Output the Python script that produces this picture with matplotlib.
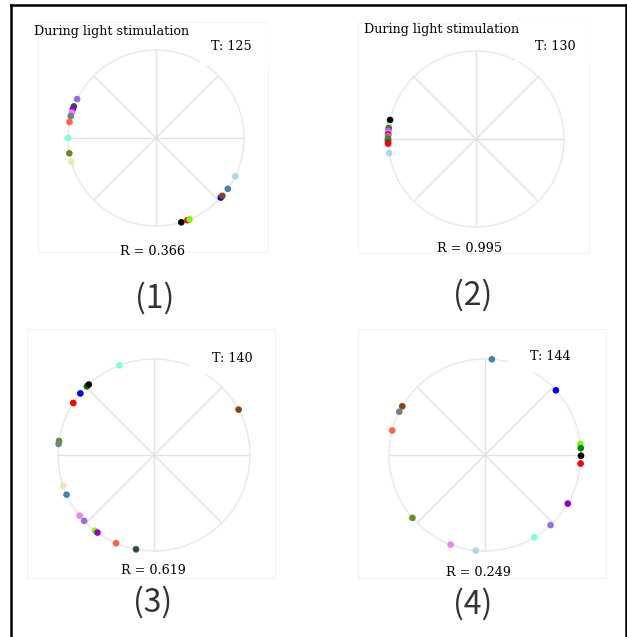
import numpy as np
import matplotlib
matplotlib.use("Agg")
import matplotlib.pyplot as plt
from matplotlib.patches import Rectangle
from matplotlib.lines import Line2D

W, H = 627, 637

# phase angles (degrees) and colours of each cell, per panel
p1_deg = [153.7, 159.0, 160.9, 163.2, 165.6, 169.5, 180.0, 190.0, 195.6,
          334.2, 324.7, 317.4, 318.9, 291.0, 292.4, 286.7]
p1_col = ["mediumpurple", "darkslategray", "darkviolet", "violet", "slategray",
          "tomato", "aquamarine", "olivedrab", "palegoldenrod",
          "lightblue", "steelblue", "blue", "saddlebrown", "red", "lawngreen", "black"]

p2_deg = [167.5, 171.5, 173.0, 174.5, 176.0, 177.0, 178.0, 179.5, 180.5,
          181.0, 182.0, 183.0, 189.3]
p2_col = ["black", "aquamarine", "saddlebrown", "mediumpurple", "violet",
          "darkviolet", "tomato", "olivedrab", "darkslategray", "steelblue",
          "green", "red", "lightblue"]

p3_deg = [111.1, 134.4, 132.8, 140.1, 147.2, 171.6, 173.4, 198.8, 204.4,
          219.2, 223.3, 232.1, 233.9, 246.7, 259.2, 28.2]
p3_col = ["aquamarine", "green", "black", "blue", "red", "olivedrab", "slategray",
          "palegoldenrod", "steelblue", "violet", "mediumpurple", "lawngreen",
          "darkviolet", "tomato", "darkslategray", "saddlebrown"]

p4_deg = [85.9, 42.4, 149.5, 153.2, 165.2, 6.6, 4.1, 359.6, 354.9,
          329.6, 313.1, 301.0, 264.5, 249.0, 220.9]
p4_col = ["steelblue", "blue", "saddlebrown", "slategray", "tomato", "lawngreen",
          "green", "black", "red", "darkviolet", "mediumpurple", "aquamarine",
          "lightblue", "violet", "olivedrab"]

t_labels = ["T: 125", "T: 130", "T: 140", "T: 144"]
r_labels = ["R = 0.366", "R = 0.995", "R = 0.619", "R = 0.249"]
tags = ["(1)", "(2)", "(3)", "(4)"]
has_title = [True, True, False, False]

# layout in pixels
centers = [(156, 138), (476, 139), (154, 455), (485, 455)]
radii = [88, 88, 96, 96]
t_pos = [(231, 46), (555, 46), (232, 359), (550, 356)]
r_pos = [(152, 252), (470, 249), (153, 570), (479, 572)]
tag_pos = [(155, 298), (473, 295), (153, 602), (473, 604)]
title_pos = [(34, 32), (364, 30)]
t_boxes = [(200, 23, 269, 66), (515, 23, 590, 62), (190, 336, 275, 375), (508, 332, 600, 372)]
frames = [(38, 22, 268, 252), (358, 23, 589, 253), (27, 329, 275, 578), (358, 329, 606, 578)]


def fx(x):
    return x / W


def fy(y):
    return 1 - y / H


serif = "DejaVu Serif"
sans = ["Noto Sans CJK JP", "DejaVu Sans"]

fig = plt.figure(figsize=(W / 100, H / 100), dpi=100)

# faint plot frames
for x0, y0, x1, y1 in frames:
    fig.patches.append(Rectangle((fx(x0), fy(y1)), fx(x1) - fx(x0), fy(y0) - fy(y1),
                                 transform=fig.transFigure, fill=False,
                                 edgecolor="#f2f2f2", lw=0.8, zorder=0))

panels = [(p1_deg, p1_col), (p2_deg, p2_col), (p3_deg, p3_col), (p4_deg, p4_col)]
for i, (deg, col) in enumerate(panels):
    cx, cy = centers[i]
    r = radii[i]
    ax = fig.add_axes([fx(cx - r), fy(cy + r), 2 * r / W, 2 * r / H], projection="polar")
    ax.set_ylim(0, 1)
    ax.set_yticks([])
    ax.set_thetagrids(np.arange(0, 360, 45), labels=[])
    ax.xaxis.grid(True, color="#e2e2e2", lw=1.0)
    ax.spines["polar"].set_color("#e8e8e8")
    ax.spines["polar"].set_linewidth(1.0)
    ax.tick_params(length=0)
    ax.patch.set_alpha(0)
    th = np.deg2rad(deg)
    ax.scatter(th, np.ones(len(th)), c=col, s=23, edgecolors="none",
               clip_on=False, zorder=3)

    # white box behind the T label (hides part of the circle)
    x0, y0, x1, y1 = t_boxes[i]
    fig.patches.append(Rectangle((fx(x0), fy(y1)), fx(x1) - fx(x0), fy(y0) - fy(y1),
                                 transform=fig.transFigure, facecolor="white",
                                 edgecolor="none", zorder=5))

    fig.text(fx(t_pos[i][0]), fy(t_pos[i][1]), t_labels[i], family=serif,
             fontsize=9.2, ha="center", va="center", zorder=6)
    fig.text(fx(r_pos[i][0]), fy(r_pos[i][1]), r_labels[i], family=serif,
             fontsize=9.2, ha="center", va="center", zorder=6)
    fig.text(fx(tag_pos[i][0]), fy(tag_pos[i][1]), tags[i], family=sans,
             fontsize=23, ha="center", va="center",
             color="#333333", zorder=6)
    if has_title[i]:
        fig.text(fx(title_pos[i][0]), fy(title_pos[i][1]), "During light stimulation",
                 family=serif, fontsize=9.2, ha="left", va="center", zorder=6)

# outer black frame, open at the bottom
for xs, ys in [([10.5, 10.5], [637, 5]), ([10.5, 625.5], [5, 5]), ([625.5, 625.5], [5, 637])]:
    fig.add_artist(Line2D([fx(v) for v in xs], [fy(v) for v in ys],
                          transform=fig.transFigure, color="black", lw=1.8, zorder=10))

fig.savefig("out.png", dpi=100)
